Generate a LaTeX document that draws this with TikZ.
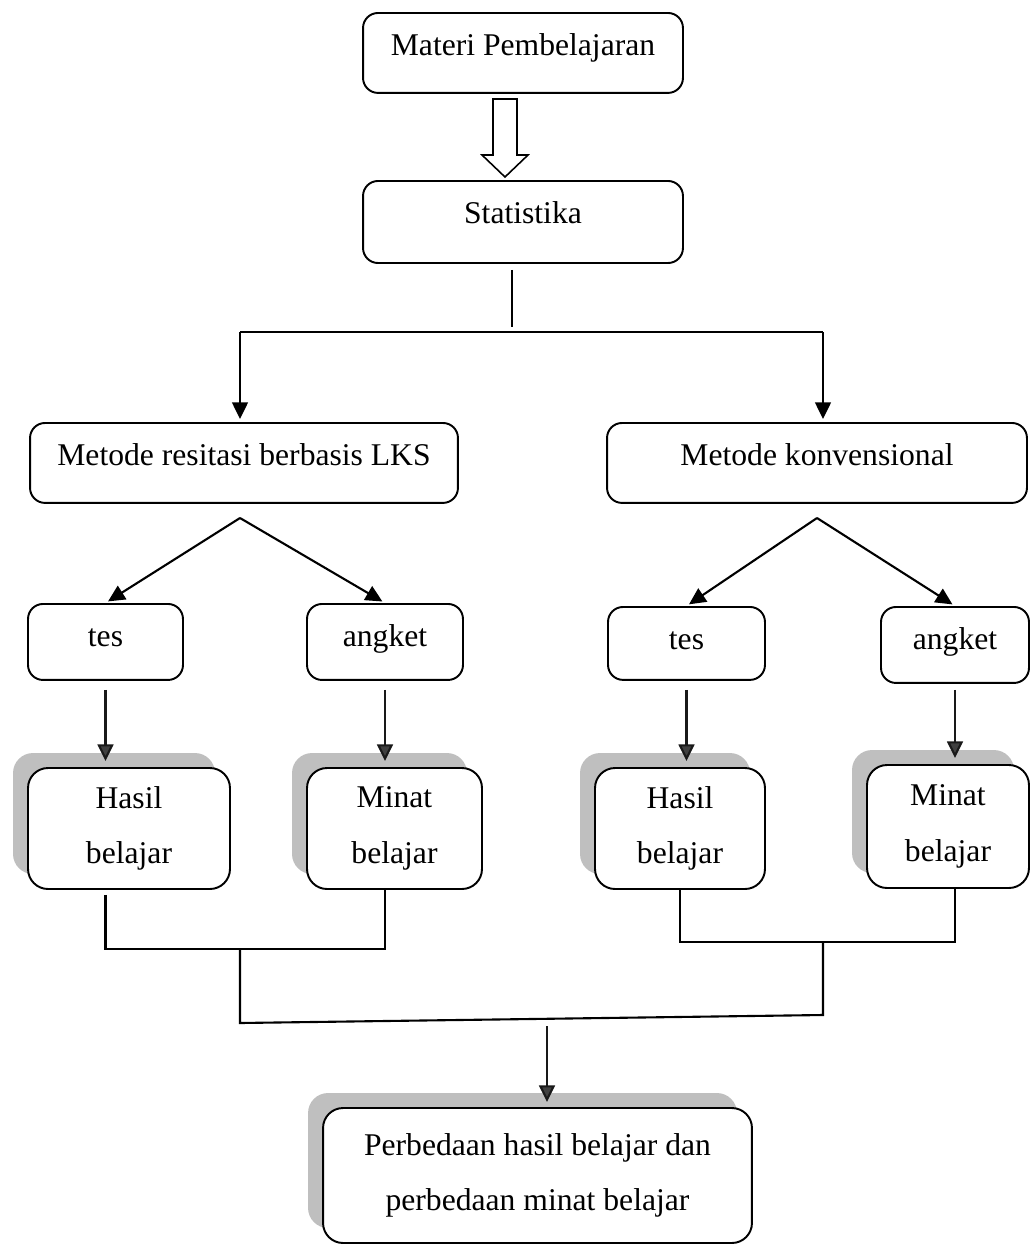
\documentclass[tikz,border=0pt]{standalone}
\usepackage{fontspec}
\setmainfont{Liberation Serif}
\usepackage{tikz}
\usetikzlibrary{arrows.meta, shadows}

\begin{document}
\begin{tikzpicture}[
		% Gaya gambar (1 satuan = 1 piksel acuan)
		x=0.02cm, y=-0.02cm,
		>={Triangle[width=9pt, length=9.5pt]},
		kotak/.style={draw, rectangle, rounded corners=0.3cm, line width=1.1pt, fill=white, inner sep=0pt, text height=24pt, anchor=north, font=\fontsize{18pt}{31.5pt}\selectfont},
		bayang/.style={draw, rectangle, rounded corners=0.4cm, line width=1.1pt, fill=white, inner sep=0pt, align=center, font=\fontsize{18pt}{31.5pt}\selectfont,
			drop shadow={shadow xshift=-0.3cm, shadow yshift=0.3cm, fill=black!25, opacity=1}},
		garis/.style={line width=1.2pt, draw=black},
		panah/.style={->, line width=1.2pt, draw=black},
		panahabu/.style={-{Triangle[width=9pt, length=9.5pt, fill=black!75]}, line width=1.2pt, draw=black!90},
		blok/.style={draw, line width=0.9pt, fill=white}
	]
	\useasboundingbox (0,0) rectangle (1031,1245);
	% Materi dan statistika
	\node[kotak, minimum width=6.4cm, text depth=21.5pt] (materi) at (523,12) {Materi Pembelajaran};
	\node[kotak, minimum width=6.4cm, text depth=22.7pt] (statistika) at (523,180) {Statistika};
	\draw[blok] (493,99) -- (517,99) -- (517,155) -- (528,155) -- (505,177) -- (482,155) -- (493,155) -- cycle;
	% Metode
	\node[kotak, minimum width=8.56cm, text depth=21.5pt] (metodeA) at (244,422) {Metode resitasi berbasis LKS};
	\node[kotak, minimum width=8.4cm, text depth=21.5pt] (metodeB) at (817,422) {Metode konvensional};
	% Instrumen
	\node[kotak, minimum width=3.1cm, text depth=19.25pt] (tesA) at (105.5,603) {tes};
	\node[kotak, minimum width=3.12cm, text depth=19.25pt] (angketA) at (385,603) {angket};
	\node[kotak, minimum width=3.14cm, text depth=17.5pt] (tesB) at (686.5,606) {tes};
	\node[kotak, minimum width=2.96cm, text depth=19.25pt] (angketB) at (955,606) {angket};
	% Hasil dan minat
	\node[bayang, minimum width=4.04cm, minimum height=2.42cm] (hasilA) at (129,828.5) {Hasil\\belajar};
	\node[bayang, minimum width=3.5cm, minimum height=2.42cm] (minatA) at (394.5,828.5) {Minat\\belajar};
	\node[bayang, minimum width=3.4cm, minimum height=2.42cm] (hasilB) at (680,828.5) {Hasil\\belajar};
	\node[bayang, minimum width=3.24cm, minimum height=2.46cm] (minatB) at (948,826.5) {Minat\\belajar};
	\node[bayang, minimum width=8.58cm, minimum height=2.7cm] (beda) at (537.5,1175.5) {Perbedaan hasil belajar dan\\perbedaan minat belajar};
	% Titik cabang
	\coordinate (cabang) at (512,332);
	\coordinate (kiri) at (240,332);
	\coordinate (kanan) at (823,332);
	\coordinate (pisahA) at (240,518);
	\coordinate (pisahB) at (817,518);
	\coordinate (gabungA) at (240,949);
	\coordinate (gabungB) at (823,942);
	\coordinate (ujungA) at (240,1023);
	\coordinate (ujungB) at (823,1015);
	\coordinate (turun) at (547,1021);
	% Alur atas
	\draw[garis, shorten <=0.12cm, shorten >=0.1cm] (cabang |- statistika.south) -- (cabang);
	\draw[garis] (kiri) -- (kanan);
	\draw[panah, shorten >=0.06cm] (kiri) -- (kiri |- metodeA.north);
	\draw[panah, shorten >=0.06cm] (kanan) -- (kanan |- metodeB.north);
	% Alur ke instrumen
	\draw[panah, shorten >=0.06cm] (pisahA) -- (tesA.north);
	\draw[panah, shorten >=0.06cm] (pisahA) -- (angketA.north);
	\draw[panah, shorten >=0.06cm] (pisahB) -- (tesB.north);
	\draw[panah, shorten >=0.06cm] (pisahB) -- (angketB.north);
	\draw[panahabu, shorten <=0.18cm, shorten >=0.12cm] (tesA.south) -- (tesA.south |- hasilA.north);
	\draw[panahabu, shorten <=0.18cm, shorten >=0.12cm] (angketA.south) -- (angketA.south |- minatA.north);
	\draw[panahabu, shorten <=0.18cm, shorten >=0.12cm] (tesB.south) -- (tesB.south |- hasilB.north);
	\draw[panahabu, shorten <=0.12cm, shorten >=0.12cm] (angketB.south) -- (angketB.south |- minatB.north);
	% Alur gabungan
	\draw[garis, shorten <=0.1cm] (tesA.south |- hasilA.south) -- (tesA.south |- gabungA) -- (angketA.south |- gabungA) -- (angketA.south |- minatA.south);
	\draw[garis] (hasilB.south) -- (hasilB.south |- gabungB) -- (angketB.south |- gabungB) -- (angketB.south |- minatB.south);
	\draw[garis] (gabungA) -- (ujungA) -- (ujungB) -- (gabungB);
	\draw[panahabu, shorten <=0.1cm, shorten >=0.1cm] (turun) -- (turun |- beda.north);
\end{tikzpicture}
\end{document}
